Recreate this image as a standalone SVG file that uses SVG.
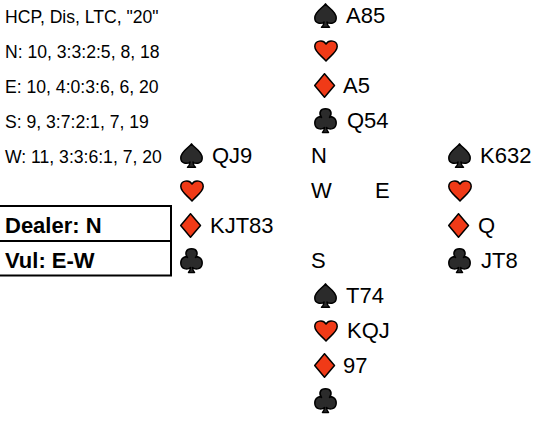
<svg xmlns="http://www.w3.org/2000/svg" width="540" height="430" viewBox="0 0 540 430">
<style>
text{font-family:"Liberation Sans",Arial,sans-serif;fill:#000}
.s{font-size:17.6px}
.c{font-size:22px}
.b{font-size:22px;font-weight:bold}
.k{fill:#2b2b2b;stroke:#000;stroke-width:1.5;stroke-linejoin:round}
.r{fill:#f03a17;stroke:#000;stroke-width:1.5;stroke-linejoin:round}
.box{fill:none;stroke:#000;stroke-width:2}
</style>
<defs>
<path id="sp" class="k" d="M11.500 0.800C9.500 4.500 0.800 8 0.800 15C0.800 20.500 7 21.500 10 19C10 21 9 23 7.500 24.300L15.500 24.300C14 23 13 21 13 19C16 21.500 22.200 20.500 22.200 15C22.200 8 13.500 4.500 11.500 0.800Z"/>
<path id="he" class="r" d="M12 21C8 16 0.800 12 0.800 6.500C0.800 0.500 9 -1 12 4C15 -1 23.200 0.500 23.200 6.500C23.200 12 16 16 12 21Z"/>
<path id="di" class="r" d="M10.500 0.700L20.500 12.500L10.500 24.300L0.700 12.500Z"/>
<path id="cl" class="k" d="M8.500 24.500C10 22.500 10.500 21 10.500 19.500C7.500 22 0.800 21.500 0.800 15C0.800 9.500 5.500 8 7.500 9.500C4.500 5.500 6 0.800 11.500 0.800C17 0.800 18.500 5.500 15.500 9.500C17.500 8 22.200 9.500 22.200 15C22.200 21.500 15.500 22 12.500 19.500C12.500 21 13 22.500 14.500 24.500Z"/>
</defs>
<g id="info">
<text class="s" x="5" y="23">HCP, Dis, LTC, "20"</text>
<text class="s" x="5" y="58">N: 10, 3:3:2:5, 8, 18</text>
<text class="s" x="5" y="93">E: 10, 4:0:3:6, 6, 20</text>
<text class="s" x="5" y="128">S: 9, 3:7:2:1, 7, 19</text>
<text class="s" x="5" y="163">W: 11, 3:3:6:1, 7, 20</text>
</g>
<g id="status">
<path class="box" d="M0 206H171V275.500H0M0 241H171"/>
<text class="b" x="5" y="233">Dealer: N</text>
<text class="b" x="5" y="268">Vul: E-W</text>
</g>
<g id="north">
<use href="#sp" x="314" y="3"/><text class="c" x="346" y="23">A85</text>
<use href="#he" x="314" y="40"/>
<use href="#di" x="314" y="73"/><text class="c" x="343" y="93">A5</text>
<use href="#cl" x="314" y="108"/><text class="c" x="347" y="128">Q54</text>
</g>
<g id="west">
<use href="#sp" x="180" y="143"/><text class="c" x="212" y="163">QJ9</text>
<use href="#he" x="180" y="180"/>
<use href="#di" x="180" y="213"/><text class="c" x="210" y="233">KJT83</text>
<use href="#cl" x="180" y="248"/>
</g>
<g id="compass">
<text class="c" x="311" y="163">N</text>
<text class="c" x="311" y="198">W</text>
<text class="c" x="375" y="198">E</text>
<text class="c" x="311" y="268">S</text>
</g>
<g id="east">
<use href="#sp" x="448" y="143"/><text class="c" x="480" y="163">K632</text>
<use href="#he" x="448" y="180"/>
<use href="#di" x="448" y="213"/><text class="c" x="478" y="233">Q</text>
<use href="#cl" x="448" y="248"/><text class="c" x="481" y="268">JT8</text>
</g>
<g id="south">
<use href="#sp" x="314" y="283"/><text class="c" x="346" y="303">T74</text>
<use href="#he" x="314" y="320"/><text class="c" x="347" y="338">KQJ</text>
<use href="#di" x="314" y="353"/><text class="c" x="343" y="373">97</text>
<use href="#cl" x="314" y="388"/>
</g>
<g id="connectors"/>
</svg>
